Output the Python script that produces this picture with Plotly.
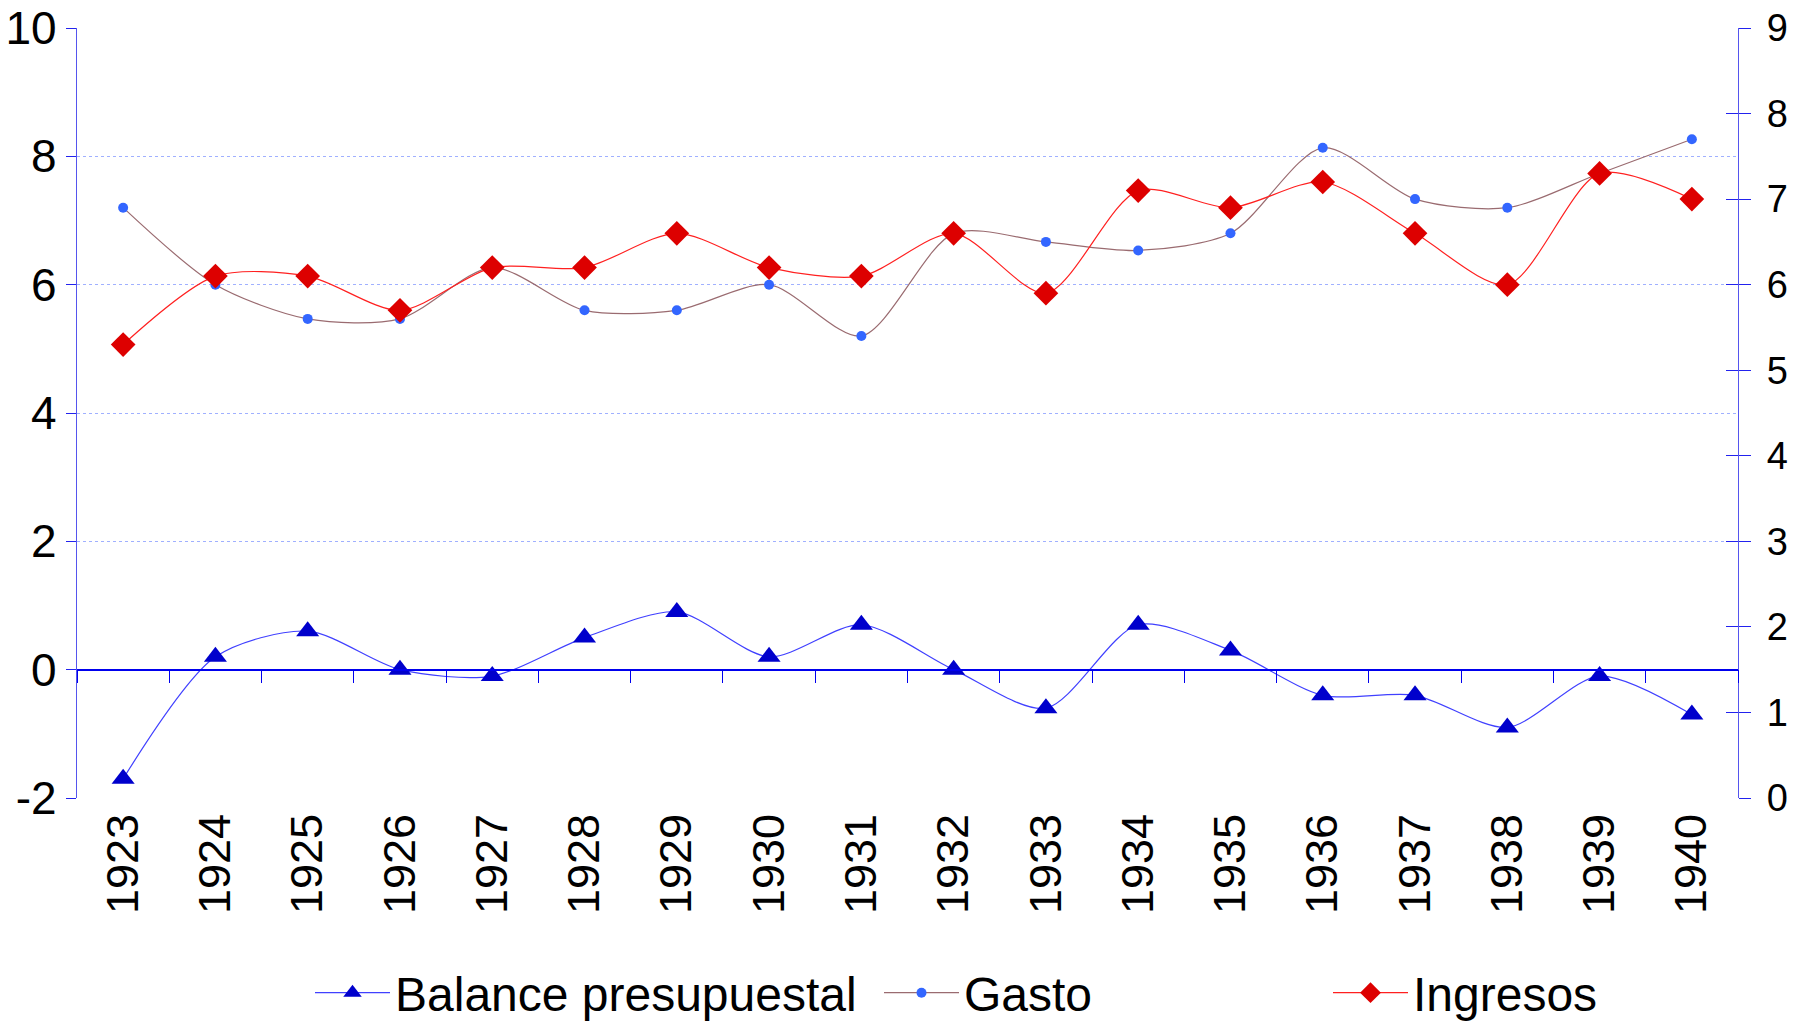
import plotly.graph_objects as go

years = [str(y) for y in range(1923, 1941)]
balance = [-1.7, 0.2, 0.6, 0.0, -0.1, 0.5, 0.9, 0.2, 0.7, 0.0, -0.6, 0.7, 0.3, -0.4, -0.4, -0.9, -0.1, -0.7]
gasto = [6.9, 6.0, 5.6, 5.6, 6.2, 5.7, 5.7, 6.0, 5.4, 6.6, 6.5, 6.4, 6.6, 7.6, 7.0, 6.9, 7.3, 7.7]
ingresos = [5.3, 6.1, 6.1, 5.7, 6.2, 6.2, 6.6, 6.2, 6.1, 6.6, 5.9, 7.1, 6.9, 7.2, 6.6, 6.0, 7.3, 7.0]

left_ticks = [-2, 0, 2, 4, 6, 8, 10]
right_ticks = [0, 1, 2, 3, 4, 5, 6, 7, 8, 9]

FONT = "Liberation Sans, Arial, sans-serif"
W, H = 1794, 1021

fig = go.Figure()

fig.add_trace(go.Scatter(
    x=years, y=balance, name="Balance presupuestal", mode="lines+markers",
    xaxis="x", yaxis="y", legend="legend2",
    line=dict(color="#4040FF", width=1.2, shape="spline", smoothing=0.8),
    marker=dict(symbol="triangle-up", size=20, color="#0000CC"),
))
fig.add_trace(go.Scatter(
    x=years, y=gasto, name="Gasto", mode="lines+markers",
    xaxis="x", yaxis="y2", legend="legend3",
    line=dict(color="#9a6b70", width=1.2, shape="spline", smoothing=0.8),
    marker=dict(symbol="circle", size=10, color="#3366FF"),
))
fig.add_trace(go.Scatter(
    x=years, y=ingresos, name="Ingresos", mode="lines+markers",
    xaxis="x", yaxis="y3", legend="legend4",
    line=dict(color="#FF2020", width=1.2, shape="spline", smoothing=0.8),
    marker=dict(symbol="diamond", size=19, color="#DD0000"),
))
# invisible carrier so the category tick axis at y=0 is drawn
fig.add_trace(go.Scatter(
    x=years, y=balance, xaxis="x2", yaxis="y", mode="lines",
    line=dict(width=0), opacity=0, hoverinfo="skip", showlegend=False,
))

L, R, T, B = 77, 56, 28, 223
axis_blue = "#5555EE"

fig.update_layout(
    width=W, height=H,
    margin=dict(l=L, r=R, t=T, b=B, autoexpand=False),
    paper_bgcolor="white", plot_bgcolor="white",
    font=dict(family=FONT, color="black"),
    showlegend=True,
    xaxis=dict(
        type="category", range=[-0.5, 17.5], tickangle=-90,
        tickfont=dict(size=45, family=FONT, color="black"),
        ticks="", showline=False, showgrid=False, zeroline=False,
        ticklabelstandoff=6, automargin=False,
    ),
    xaxis2=dict(
        type="category", categoryarray=years, range=[-0.5, 17.5],
        overlaying="x", anchor="free", position=1/6,
        showline=True, linecolor="#0000EE", linewidth=1.5,
        ticks="outside", ticklen=13, tickcolor="#0000EE", tickwidth=1.2,
        tickson="boundaries", showticklabels=False, showgrid=False,
        zeroline=False, automargin=False,
    ),
    yaxis=dict(
        range=[-2, 10], tickvals=left_ticks, ticktext=[str(v) for v in left_ticks],
        tickfont=dict(size=46, family=FONT, color="black"),
        ticks="outside", ticklen=10, tickcolor="#2222EE", tickwidth=1.2,
        showline=True, linecolor=axis_blue, linewidth=1.2,
        showgrid=True, gridcolor="#A0B0FF", griddash="dot", gridwidth=1,
        zeroline=True, zerolinecolor="#0000EE", zerolinewidth=1.5,
        ticklabelstandoff=0, automargin=False,
    ),
    yaxis2=dict(
        range=[0, 9], tickvals=right_ticks, overlaying="y", side="right", anchor="x",
        tickfont=dict(size=38, family=FONT, color="black"),
        ticks="outside", ticklen=12, tickcolor="#2222EE", tickwidth=1.2,
        showline=True, linecolor=axis_blue, linewidth=1.2,
        showgrid=False, zeroline=False, ticklabelstandoff=8, automargin=False,
    ),
    yaxis3=dict(
        range=[0, 9], tickvals=right_ticks, overlaying="y", side="right", anchor="x",
        ticks="inside", ticklen=12, tickcolor="#2222EE", tickwidth=1.2,
        showticklabels=False, showline=False, showgrid=False, zeroline=False,
        automargin=False,
    ),
)

leg_common = dict(
    xref="container", yref="container", xanchor="left", yanchor="middle",
    orientation="h", bgcolor="rgba(0,0,0,0)", borderwidth=0,
    font=dict(size=48, family=FONT, color="black"), itemwidth=75,
)
ly = (H - 993) / H
fig.update_layout(
    legend2=dict(x=310 / W, y=ly, **leg_common),
    legend3=dict(x=879 / W, y=ly, **leg_common),
    legend4=dict(x=1328 / W, y=ly, **leg_common),
)

fig.write_html("out.html", config={"displayModeBar": False},
               post_script="document.body.style.margin='0';")
